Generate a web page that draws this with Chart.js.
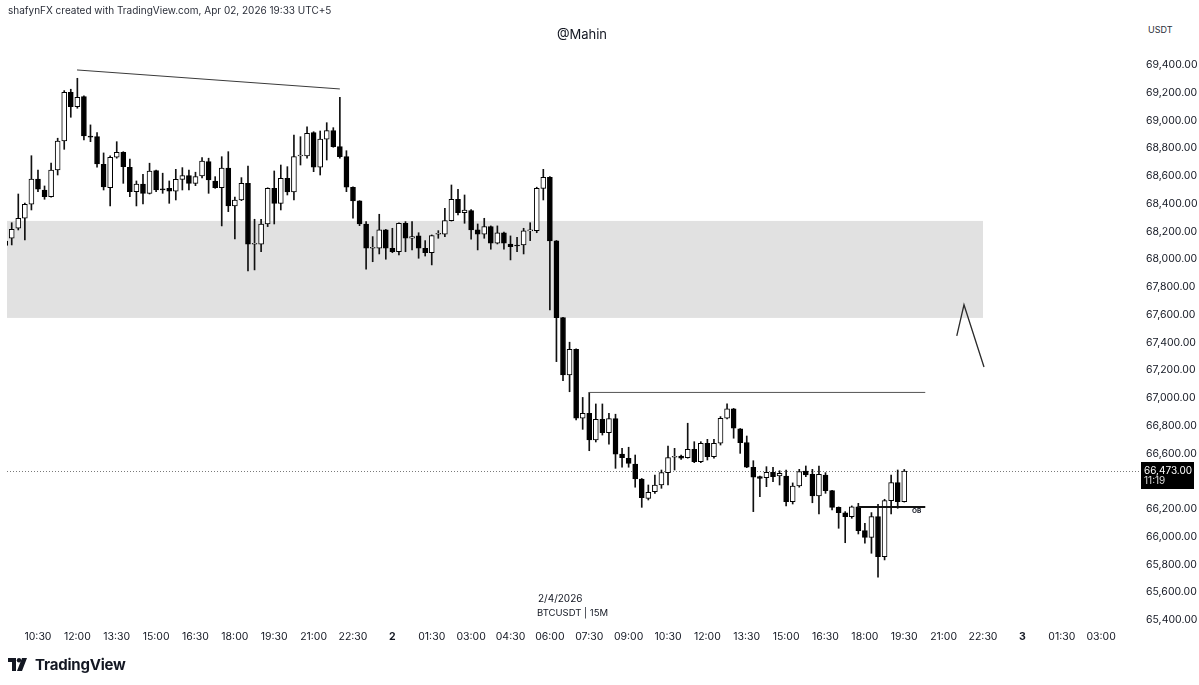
<!DOCTYPE html>
<html>
<head>
<meta charset="utf-8">
<title>BTCUSDT 15M</title>
<script src="https://cdn.jsdelivr.net/npm/chart.js@4.4.1/dist/chart.umd.min.js"></script>
<style>
  html, body { margin: 0; padding: 0; background: #fff; }
  body { width: 1199px; height: 685px; position: relative; overflow: hidden; font-family: Inter, "Noto Sans", sans-serif; color: #131722; }
  #chart { position: absolute; left: 0; top: 0; }
  .txt { position: absolute; white-space: nowrap; line-height: 1; }
  #credit { left: 8px; top: 5px; font-size: 10px; color: #2a2e39; }
  #author { left: 582px; top: 28px; font-size: 13px; transform: translateX(-50%); }
  #unit { left: 1148px; top: 23px; font-size: 9px; color: #2a2e39; background: #fff; padding: 2px 0 6px; width: 45px; }
  #date { left: 538px; top: 593px; font-size: 10px; }
  #sym { left: 537px; top: 608px; font-size: 9.5px; }
  #ob { left: 912px; top: 508px; font-size: 6.5px; font-weight: 700; }
  #brand { left: 8px; top: 657px; font-size: 15px; font-weight: 700; display: flex; align-items: center; gap: 5px; letter-spacing: -0.2px; }
</style>
</head>
<body>
<canvas id="chart" width="1199" height="685"></canvas>
<div class="txt" id="credit">shafynFX created with TradingView.com, Apr 02, 2026 19:33 UTC+5</div>
<div class="txt" id="author">@Mahin</div>
<div class="txt" id="unit">USDT</div>
<div class="txt" id="date">2/4/2026</div>
<div class="txt" id="sym">BTCUSDT | 15M</div>
<div class="txt" id="ob">OB</div>
<div class="txt" id="brand">
  <svg width="22" height="13" viewBox="0 0 22 13"><path d="M0 0H8V13H4V4H0Z M14 0H19L14 13H9Z" fill="#131722"/><circle cx="11" cy="2.2" r="2.2" fill="#131722"/></svg>
  <span>TradingView</span>
</div>
<script>
// BTCUSDT 15m candles, first one is 09:15 on day 1
const opens = [
  68100, 68151, 68223, 68295, 68396, 68578, 68499, 68451, 68643, 68852,
  69203, 69099, 69172, 68888, 68883, 68684, 68516, 68735, 68771, 68663,
  68487, 68542, 68475, 68638, 68508, 68511, 68490, 68576, 68602, 68547,
  68600, 68703, 68564, 68516, 68656, 68384, 68427, 68547, 68108, 68108,
  68254, 68511, 68403, 68583, 68485, 68744, 68744, 68912, 68663, 68865,
  68927, 68811, 68739, 68519, 68420, 68254, 68079, 68079, 68211, 68079,
  68054, 68259, 68151, 68168, 68079, 68047, 68180, 68180, 68278, 68432,
  68336, 68350, 68211, 68180, 68235, 68115, 68191, 68110, 68098, 68103,
  68204, 68206, 68511, 68591, 68132, 67579, 67166, 67351, 66854, 66890,
  66697, 66847, 66750, 66851, 66596, 66566, 66524, 66416, 66277, 66325,
  66373, 66462, 66573, 66582, 66570, 66630, 66541, 66674, 66577, 66674,
  66854, 66921, 66777, 66678, 66501, 66433, 66426, 66465, 66438, 66438,
  66253, 66366, 66474, 66450, 66294, 66445, 66332, 66212, 66173, 66145,
  66215, 66044, 65996, 66145, 65856, 66260, 66390, 66253
];
const highs = [
  68155, 68263, 68470, 68405, 68746, 68643, 68528, 68692, 68872, 69215,
  69225, 69304, 69177, 68968, 68912, 68766, 68745, 68847, 68775, 68722,
  68564, 68612, 68692, 68643, 68620, 68564, 68648, 68660, 68643, 68627,
  68732, 68728, 68595, 68739, 68775, 68447, 68588, 68672, 68288, 68288,
  68515, 68636, 68679, 68667, 68895, 68883, 68955, 68919, 68924, 68984,
  68948, 69167, 68782, 68522, 68422, 68271, 68163, 68324, 68215, 68223,
  68263, 68271, 68271, 68191, 68134, 68175, 68206, 68367, 68535, 68504,
  68463, 68358, 68254, 68295, 68240, 68240, 68195, 68168, 68158, 68223,
  68263, 68519, 68648, 68595, 68135, 67582, 67402, 67355, 67004, 67040,
  66957, 66957, 66890, 66883, 66637, 66645, 66589, 66420, 66373, 66445,
  66481, 66654, 66637, 66589, 66818, 66685, 66685, 66702, 66702, 66866,
  66957, 66925, 66780, 66726, 66548, 66438, 66505, 66501, 66476, 66481,
  66388, 66486, 66510, 66486, 66510, 66462, 66335, 66215, 66181, 66222,
  66241, 66097, 66174, 66234, 66270, 66445, 66481, 66485
];
const lows = [
  68065, 68103, 68211, 68139, 68355, 68487, 68432, 68447, 68607, 68792,
  69023, 69088, 68859, 68847, 68663, 68499, 68384, 68728, 68547, 68451,
  68384, 68398, 68470, 68487, 68475, 68403, 68427, 68499, 68499, 68530,
  68586, 68475, 68511, 68240, 68343, 68146, 68422, 67915, 67923, 68055,
  68235, 68254, 68355, 68463, 68427, 68679, 68728, 68631, 68607, 68715,
  68807, 68728, 68487, 68295, 68242, 67928, 67982, 68038, 68000, 68047,
  68031, 68054, 68067, 68007, 68023, 67959, 68151, 68163, 68275, 68319,
  68259, 68144, 68067, 68151, 68072, 68110, 68072, 67995, 68054, 68038,
  68134, 68191, 68427, 67634, 67262, 67125, 67045, 66842, 66774, 66620,
  66683, 66733, 66668, 66493, 66501, 66501, 66357, 66212, 66265, 66313,
  66349, 66373, 66481, 66558, 66566, 66534, 66534, 66553, 66566, 66661,
  66850, 66710, 66601, 66498, 66181, 66289, 66361, 66397, 66373, 66222,
  66236, 66357, 66433, 66245, 66164, 66313, 66193, 66061, 65957, 66133,
  66020, 65953, 65881, 65708, 65833, 66164, 66205, 66250
];
const closes = [
  68130, 68216, 68295, 68396, 68578, 68504, 68451, 68643, 68852, 69203,
  69099, 69167, 68888, 68879, 68686, 68521, 68735, 68771, 68667, 68487,
  68542, 68475, 68636, 68499, 68499, 68490, 68576, 68602, 68547, 68595,
  68708, 68571, 68516, 68656, 68384, 68427, 68547, 68108, 68110, 68254,
  68511, 68403, 68583, 68485, 68739, 68746, 68908, 68663, 68865, 68927,
  68811, 68739, 68519, 68420, 68254, 68079, 68081, 68211, 68079, 68054,
  68259, 68151, 68163, 68079, 68047, 68170, 68182, 68278, 68432, 68336,
  68355, 68211, 68180, 68235, 68115, 68191, 68115, 68090, 68095, 68204,
  68211, 68511, 68591, 68132, 67579, 67166, 67351, 66854, 66890, 66697,
  66847, 66750, 66851, 66596, 66570, 66529, 66416, 66282, 66320, 66373,
  66463, 66570, 66575, 66566, 66630, 66541, 66674, 66577, 66674, 66854,
  66921, 66782, 66678, 66501, 66429, 66421, 66465, 66433, 66457, 66253,
  66366, 66469, 66445, 66294, 66450, 66332, 66212, 66173, 66145, 66215,
  66044, 65996, 66145, 65856, 66260, 66390, 66253, 66473
];

// time axis: one label every 6 candles, first one (10:30) on candle 5
const tickLabels = ['10:30', '12:00', '13:30', '15:00', '16:30', '18:00', '19:30', '21:00', '22:30', '2',
  '01:30', '03:00', '04:30', '06:00', '07:30', '09:00', '10:30', '12:00', '13:30', '15:00',
  '16:30', '18:00', '19:30', '21:00', '22:30', '3', '01:30', '03:00'];
const firstTick = 5, tickStep = 6;
const priceTicks = [65400, 65600, 65800, 66000, 66200, 66400, 66600, 66800, 67000, 67200, 67400,
  67600, 67800, 68000, 68200, 68400, 68600, 68800, 69000, 69200, 69400];

// drawings (candle index, price)
const trendLine = [{ x: 10.95, y: 69364 }, { x: 51.0, y: 69227 }];
const highLine = [{ x: 89, y: 67040 }, { x: 140.2, y: 67040 }];
const obLine = [{ x: 129.9, y: 66215 }, { x: 140.2, y: 66215 }];
const arrowLine = [{ x: 145.0, y: 67447 }, { x: 146.1, y: 67672 }, { x: 149.15, y: 67223 }];
const zone = { top: 68276, bottom: 67577, end: 149.0 };
const countdown = '11:19';

const lastPrice = closes[closes.length - 1];
const fmt = v => v.toLocaleString('en-US', { minimumFractionDigits: 2, maximumFractionDigits: 2 });
const isUp = i => closes[i] >= opens[i];
const labelAt = v => tickLabels[Math.round((v - firstTick) / tickStep)] || '';

const overlay = {
  id: 'overlay',
  beforeDatasetsDraw(chart) {
    const { ctx, chartArea: a, scales: { x, y } } = chart;
    ctx.save();
    ctx.fillStyle = '#e1e1e1';
    const zr = x.getPixelForValue(zone.end);
    const zt = y.getPixelForValue(zone.top), zb = y.getPixelForValue(zone.bottom);
    ctx.fillRect(a.left, zt, zr - a.left, zb - zt);
    const py = Math.round(y.getPixelForValue(lastPrice)) + 0.5;
    ctx.strokeStyle = '#7a7a7a';
    ctx.lineWidth = 1;
    ctx.setLineDash([1, 2]);
    ctx.beginPath(); ctx.moveTo(a.left, py); ctx.lineTo(a.right, py); ctx.stroke();
    ctx.restore();
  },
  afterDraw(chart) {
    const { ctx, chartArea: a, scales: { y } } = chart;
    const py = Math.round(y.getPixelForValue(lastPrice));
    ctx.save();
    ctx.fillStyle = '#000';
    ctx.fillRect(a.right + 1, py - 9, 53, 27);
    ctx.fillStyle = '#fff';
    ctx.font = '10px Inter';
    ctx.textBaseline = 'middle';
    ctx.fillText(fmt(lastPrice), a.right + 4, py);
    ctx.fillStyle = '#ddd';
    ctx.fillText(countdown, a.right + 4, py + 10);
    ctx.restore();
  }
};

const lineDs = (data, color, width) => ({
  type: 'line', data, borderColor: color, borderWidth: width,
  pointRadius: 0, fill: false, tension: 0, order: 0
});

new Chart(document.getElementById('chart'), {
  type: 'bar',
  data: {
    datasets: [
      lineDs(trendLine, '#3a3a3a', 1),
      lineDs(highLine, '#555', 1),
      lineDs(obLine, '#111', 2),
      lineDs(arrowLine, '#2a2a2a', 1.3),
      {
        label: 'bodies',
        data: opens.map((o, i) => ({ x: i, y: [o, closes[i]] })),
        backgroundColor: c => isUp(c.dataIndex) ? '#fff' : '#000',
        borderColor: '#000', borderWidth: 1, borderSkipped: false,
        barThickness: 5, minBarLength: 1, grouped: false, order: 1
      },
      {
        label: 'wicks',
        data: lows.map((l, i) => ({ x: i, y: [l, highs[i]] })),
        backgroundColor: '#111', barThickness: 1, grouped: false, order: 2
      }
    ]
  },
  options: {
    responsive: false, animation: false, events: [],
    layout: { padding: { left: 7, top: 20, right: 0, bottom: 0 } },
    plugins: { legend: { display: false }, tooltip: { enabled: false } },
    scales: {
      x: {
        type: 'linear', min: 0.28, max: 172.92, offset: false,
        grid: { display: false, drawTicks: false }, border: { display: false },
        afterBuildTicks: s => { s.ticks = tickLabels.map((_, k) => ({ value: firstTick + k * tickStep })); },
        afterFit: s => { s.height = 60; },
        ticks: {
          autoSkip: false, maxRotation: 0, padding: 6, color: '#131722',
          font: c => ({ family: 'Inter', size: 10.5, weight: (c.tick && /^\d$/.test(labelAt(c.tick.value))) ? 'bold' : 'normal' }),
          callback: v => labelAt(v)
        }
      },
      y: {
        position: 'right', min: 65364, max: 69724,
        grid: { display: false, drawTicks: false }, border: { display: false },
        // the last-price box hides the nearest tick label, as in TradingView
        afterBuildTicks: s => { s.ticks = priceTicks.filter(v => Math.abs(v - lastPrice) > 110).map(v => ({ value: v })); },
        afterFit: s => { s.width = 59; },
        ticks: { padding: 6, color: '#131722', font: { family: 'Inter', size: 10.5 }, callback: v => fmt(v) }
      }
    }
  },
  plugins: [overlay]
});
</script>
</body>
</html>
